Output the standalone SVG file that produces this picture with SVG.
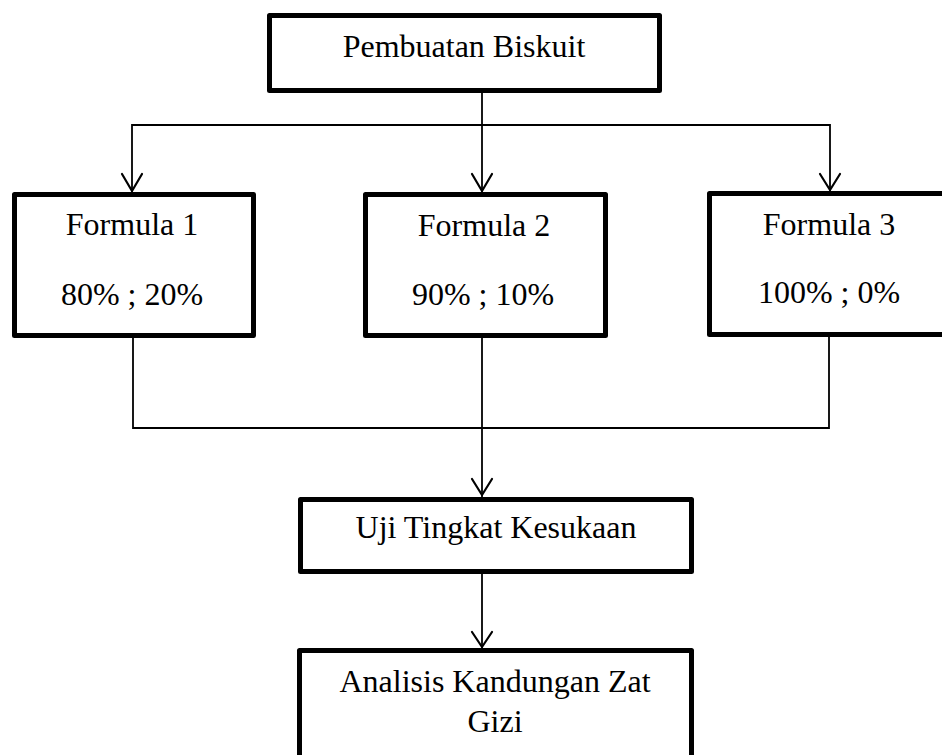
<svg xmlns="http://www.w3.org/2000/svg" width="942" height="755" viewBox="0 0 942 755">
<defs>
<style>
.box{fill:#fff;stroke:#000;stroke-width:5;stroke-linejoin:round}
.t{font-family:"Liberation Serif","Times New Roman",serif;font-size:32px;fill:#000;text-anchor:middle}
.c{fill:none;stroke:#000;stroke-width:1.8}
.ah{fill:none;stroke:#000;stroke-width:2.2;stroke-linecap:round;stroke-linejoin:round}
</style>
</defs>
<rect width="942" height="755" fill="#fff"/>
<g id="connectors">
<polyline class="c" points="132,192 132,125 830,125 830,192"/>
<line class="c" x1="482" y1="92" x2="482" y2="192"/>
<polyline class="c" points="133,338 133,428 829,428 829,337"/>
<line class="c" x1="482" y1="338" x2="482" y2="497"/>
<line class="c" x1="482" y1="574" x2="482" y2="648"/>
<polyline class="ah" points="122,174 132,191 142,174"/>
<polyline class="ah" points="472,174 482,191 492,174"/>
<polyline class="ah" points="820,174 830,190 840,174"/>
<polyline class="ah" points="472,479 482,495 492,479"/>
<polyline class="ah" points="472,632 482,647 492,632"/>
</g>
<g id="pembuatan">
<rect class="box" x="269.5" y="15.5" width="390" height="75"/>
<text class="t" x="464" y="57">Pembuatan Biskuit</text>
</g>
<g id="formula1">
<rect class="box" x="14.5" y="194.5" width="239" height="141"/>
<text class="t" x="132" y="235">Formula 1</text>
<text class="t" x="132" y="305">80% ; 20%</text>
</g>
<g id="formula2">
<rect class="box" x="365.5" y="194.5" width="240" height="141"/>
<text class="t" x="484" y="236">Formula 2</text>
<text class="t" x="483" y="305">90% ; 10%</text>
</g>
<g id="formula3">
<rect class="box" x="709.5" y="193.5" width="260" height="141"/>
<text class="t" x="829" y="235">Formula 3</text>
<text class="t" x="829" y="303">100% ; 0%</text>
</g>
<g id="uji">
<rect class="box" x="300.5" y="499.5" width="391" height="72"/>
<text class="t" x="496" y="538">Uji Tingkat Kesukaan</text>
</g>
<g id="analisis">
<rect class="box" x="299.5" y="650.5" width="392" height="150"/>
<text class="t" x="495" y="692">Analisis Kandungan Zat</text>
<text class="t" x="495" y="732">Gizi</text>
</g>
</svg>
